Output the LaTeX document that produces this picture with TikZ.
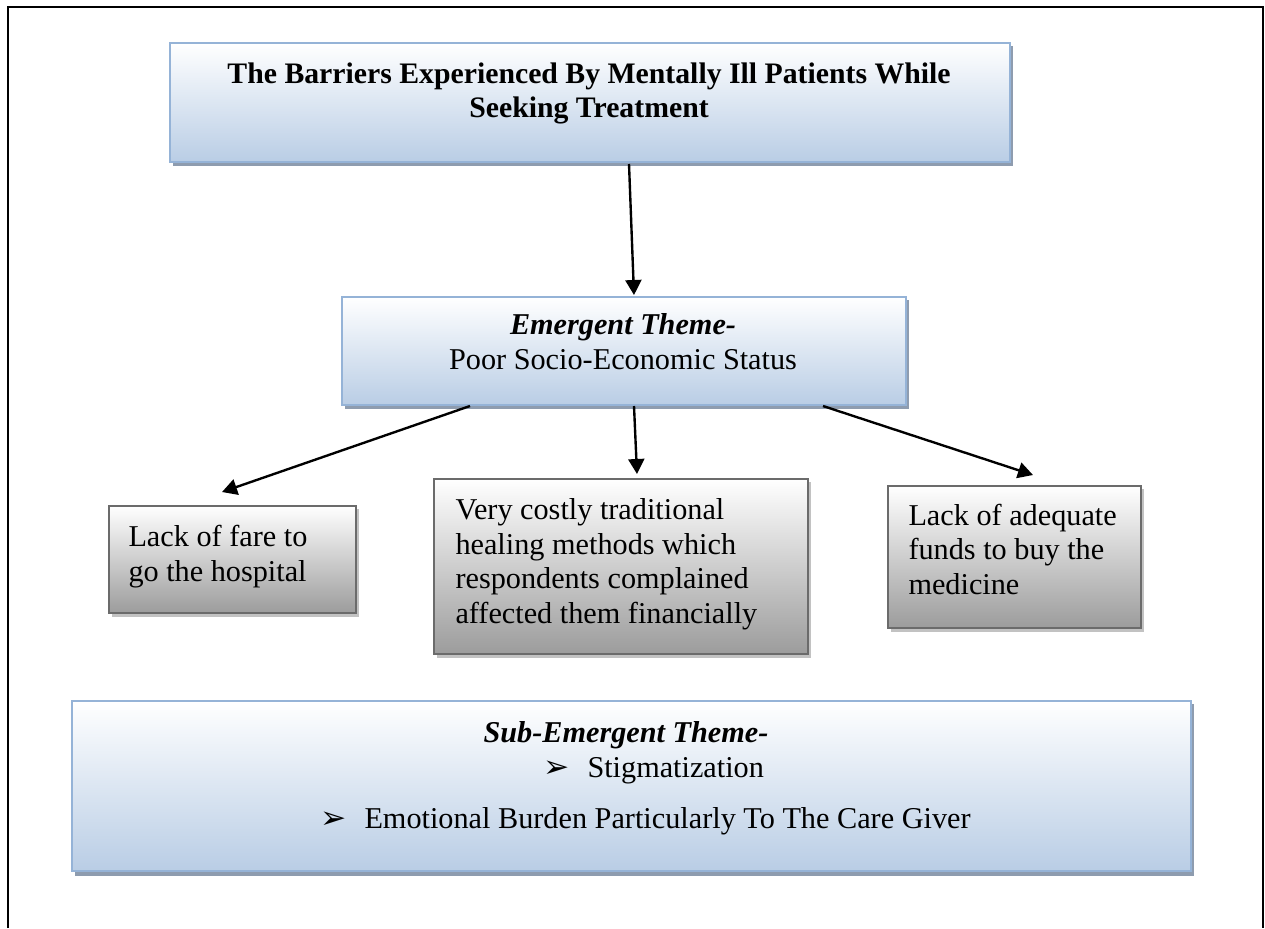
\documentclass[tikz,border=0pt]{standalone}
\usepackage{fontspec}
\setmainfont{Liberation Serif}
\newfontfamily\symfont{DejaVu Sans}
\usetikzlibrary{arrows.meta,calc}
\definecolor{bluebot}{HTML}{B9CDE5}
\definecolor{blueline}{HTML}{95B3D7}
\definecolor{blueshadow}{HTML}{8E9CAF}
\definecolor{graybot}{HTML}{9C9C9C}
\definecolor{grayline}{HTML}{6B6B6B}
\definecolor{grayshadow}{HTML}{C2C2C2}
\begin{document}
\begin{tikzpicture}[x=0.4pt,y=-0.4pt,
  every node/.style={font=\fontsize{12.1}{13.8}\selectfont},
  bluebox/.style={draw=blueline, line width=0.8pt, top color=white, bottom color=bluebot, anchor=north west, inner sep=0pt},
  graybox/.style={draw=grayline, line width=0.8pt, top color=white, bottom color=graybot, anchor=north west, inner sep=0pt},
  txt/.style={inner sep=0pt},
  bul/.style={inner sep=0pt, font=\symfont\fontsize{12.5}{13}\selectfont},
  arr/.style={line width=0.95pt, -{Triangle[length=6pt,width=6.4pt]}}
]
\useasboundingbox (0,0) rectangle (1265,928);
\draw[line width=0.8pt] (8,928) -- (8,7) -- (1263,7) -- (1263,928);

% shadows
\fill[blueshadow] (173,46) rectangle (1013,166);
\fill[blueshadow] (345,300) rectangle (909,409);
\fill[grayshadow] (112,509) rectangle (359,617);
\fill[grayshadow] (437,482) rectangle (811,658);
\fill[grayshadow] (891,489) rectangle (1144,632);
\fill[blueshadow] (75,704) rectangle (1194,876);

% boxes
\node[bluebox, minimum width=0.4pt*840, minimum height=0.4pt*119] (title) at (169,42) {};
\node[bluebox, minimum width=0.4pt*564, minimum height=0.4pt*108] (emerg) at (341,296) {};
\node[graybox, minimum width=0.4pt*247, minimum height=0.4pt*107] (left) at (108,505) {};
\node[graybox, minimum width=0.4pt*374, minimum height=0.4pt*175] (mid) at (433,478) {};
\node[graybox, minimum width=0.4pt*253, minimum height=0.4pt*142] (right) at (887,485) {};
\node[bluebox, minimum width=0.4pt*1119, minimum height=0.4pt*170] (sub) at (71,700) {};

% texts (anchor base = baseline of the last line)
\node[txt, align=center, anchor=base, font=\fontsize{11.9}{13.4}\selectfont\bfseries] (titletxt) at (589,117)
  {The Barriers Experienced By Mentally Ill Patients While\\Seeking Treatment};
\node[txt, align=center, anchor=base] (emergtxt) at (623,369)
  {\textbf{\textit{Emergent Theme-}}\\Poor Socio-Economic Status};
\node[txt, align=left, anchor=base west] (lefttxt) at (128,581)
  {Lack of fare to\\go the hospital};
\node[txt, align=left, anchor=base west] (midtxt) at (455,623)
  {Very costly traditional\\healing methods which\\respondents complained\\affected them financially};
\node[txt, align=left, anchor=base west] (righttxt) at (908,594)
  {Lack of adequate\\funds to buy the\\medicine};
\node[txt, anchor=base] (subhead) at (626,742) {\textbf{\textit{Sub-Emergent Theme-}}};
\node[bul, anchor=base west] (b1) at (543,777) {➢};
\node[txt, anchor=base west] (s1) at (587,777) {Stigmatization};
\node[bul, anchor=base west] (b2) at (320,828) {➢};
\node[txt, anchor=base west] (s2) at (364,828) {Emotional Burden Particularly To The Care Giver};

% connectors
\draw[arr] ($(title.south west)+(460,1)$) -- ($(emerg.north west)+(293,-1)$);
\draw[arr] ($(emerg.south west)+(129,0)$) -- ($(left.north west)+(114,-13)$);
\draw[arr] ($(emerg.south west)+(293,0)$) -- ($(mid.north west)+(204,-4)$);
\draw[arr] ($(emerg.south west)+(482,0)$) -- ($(right.north west)+(146,-10)$);
\end{tikzpicture}
\end{document}
